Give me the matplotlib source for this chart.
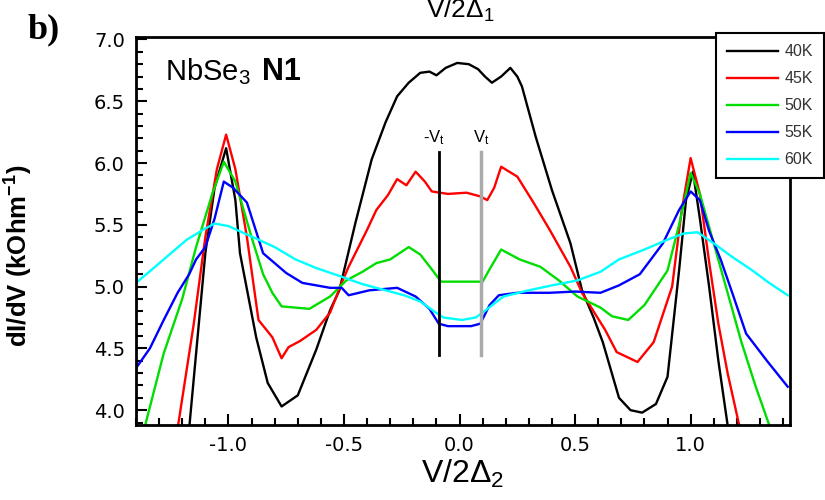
import numpy as np
import matplotlib.pyplot as plt
from matplotlib.ticker import MultipleLocator

plt.rcParams['font.family'] = ['Liberation Sans', 'DejaVu Sans']
plt.rcParams['mathtext.fontset'] = 'custom'
plt.rcParams['mathtext.rm'] = 'Liberation Sans'
plt.rcParams['mathtext.it'] = 'Liberation Sans'
plt.rcParams['mathtext.bf'] = 'Liberation Sans:bold'

# 40K
x40 = [-1.17, -1.10, -1.06, -1.01, -0.97, -0.95, -0.88, -0.83, -0.77, -0.70, -0.62, -0.56,
       -0.52, -0.45, -0.38, -0.32, -0.27, -0.22, -0.17, -0.13, -0.10, -0.06, -0.01,
       0.04, 0.08, 0.11, 0.14, 0.18, 0.22, 0.25, 0.27, 0.33, 0.40, 0.48, 0.53, 0.58, 0.62,
       0.69, 0.74, 0.79, 0.85, 0.90, 0.95, 0.98, 1.01, 1.04, 1.08, 1.12, 1.16]
y40 = [3.85, 5.27, 5.80, 6.12, 5.70, 5.27, 4.59, 4.22, 4.03, 4.12, 4.49, 4.81,
       4.97, 5.52, 6.03, 6.33, 6.54, 6.65, 6.73, 6.74, 6.71, 6.77, 6.81,
       6.80, 6.76, 6.70, 6.65, 6.70, 6.77, 6.70, 6.62, 6.21, 5.78, 5.35, 4.97, 4.75, 4.55,
       4.10, 4.00, 3.98, 4.05, 4.27, 5.13, 5.70, 5.93, 5.55, 5.00, 4.40, 3.88]

# 45K
x45 = [-1.22, -1.15, -1.10, -1.05, -1.01, -0.97, -0.92, -0.87, -0.81, -0.77, -0.74, -0.69,
       -0.62, -0.56, -0.51, -0.48, -0.40, -0.36, -0.31, -0.27, -0.23, -0.19, -0.15, -0.12, -0.05,
       0.03, 0.09, 0.12, 0.15, 0.18, 0.25, 0.32, 0.39, 0.48, 0.53, 0.58, 0.63, 0.68, 0.77,
       0.84, 0.92, 0.96, 1.00, 1.04, 1.08, 1.12, 1.16, 1.21]
y45 = [3.85, 4.70, 5.40, 5.95, 6.23, 5.95, 5.40, 4.73, 4.59, 4.42, 4.51, 4.56,
       4.65, 4.79, 5.03, 5.16, 5.46, 5.62, 5.74, 5.87, 5.82, 5.93, 5.85, 5.77, 5.75,
       5.76, 5.73, 5.70, 5.80, 5.97, 5.89, 5.68, 5.46, 5.16, 4.95, 4.80, 4.65, 4.47, 4.39,
       4.55, 5.00, 5.60, 6.04, 5.75, 5.20, 4.70, 4.30, 3.88]

# 50K
x50 = [-1.36, -1.28, -1.20, -1.14, -1.07, -1.02, -0.97, -0.90, -0.85, -0.81, -0.77, -0.65,
       -0.56, -0.49, -0.42, -0.36, -0.30, -0.22, -0.17, -0.12, -0.08, 0.00, 0.10, 0.13, 0.18,
       0.26, 0.35, 0.43, 0.51, 0.61, 0.66, 0.73, 0.80, 0.90, 0.95, 1.00, 1.04, 1.10, 1.16,
       1.22, 1.28, 1.34]
y50 = [3.88, 4.46, 4.90, 5.32, 5.75, 6.01, 5.85, 5.40, 5.10, 4.95, 4.84, 4.82,
       4.92, 5.05, 5.12, 5.19, 5.22, 5.32, 5.26, 5.14, 5.04, 5.04, 5.04, 5.14, 5.30,
       5.22, 5.16, 5.05, 4.92, 4.83, 4.76, 4.73, 4.85, 5.13, 5.50, 5.92, 5.75, 5.35, 4.95,
       4.55, 4.20, 3.88]

# 55K
x55 = [-1.40, -1.34, -1.28, -1.22, -1.17, -1.14, -1.10, -1.06, -1.02, -0.98, -0.92, -0.85,
       -0.75, -0.68, -0.56, -0.51, -0.48, -0.39, -0.27, -0.19, -0.13, -0.09, -0.05, 0.05,
       0.09, 0.13, 0.17, 0.25, 0.39, 0.50, 0.61, 0.69, 0.78, 0.88, 0.95, 1.00, 1.04, 1.08,
       1.13, 1.18, 1.24, 1.33, 1.42]
y55 = [4.34, 4.50, 4.73, 4.95, 5.10, 5.22, 5.32, 5.55, 5.85, 5.80, 5.68, 5.27,
       5.11, 5.03, 4.99, 4.99, 4.93, 4.97, 4.99, 4.92, 4.82, 4.70, 4.68, 4.68,
       4.70, 4.85, 4.93, 4.95, 4.95, 4.96, 4.95, 5.01, 5.10, 5.35, 5.62, 5.77, 5.70, 5.45,
       5.22, 4.95, 4.62, 4.40, 4.19]

# 60K
x60 = [-1.40, -1.33, -1.28, -1.18, -1.10, -1.06, -1.00, -0.93, -0.87, -0.80, -0.71, -0.62,
       -0.51, -0.42, -0.32, -0.24, -0.17, -0.11, -0.07, 0.01, 0.07, 0.10, 0.19, 0.30,
       0.40, 0.51, 0.61, 0.69, 0.80, 0.90, 0.97, 1.03, 1.10, 1.18, 1.26, 1.34, 1.42]
y60 = [5.03, 5.14, 5.22, 5.38, 5.47, 5.51, 5.49, 5.43, 5.38, 5.32, 5.22, 5.15,
       5.08, 5.02, 4.97, 4.93, 4.88, 4.80, 4.75, 4.73, 4.75, 4.79, 4.92, 4.97,
       5.01, 5.05, 5.12, 5.22, 5.30, 5.38, 5.43, 5.44, 5.35, 5.24, 5.14, 5.03, 4.93]

labels = ['40K', '45K', '50K', '55K', '60K']
colors = ['black', 'red', '#00dd00', 'blue', 'cyan']
vt = [-0.09, 0.095]

fig = plt.figure(figsize=(8.25, 5), dpi=100)
ax = fig.add_axes([136/825, 1-425/500, (790-136)/825, (425-37)/500])

for xs, ys, lab, c in zip([x40, x45, x50, x55, x60], [y40, y45, y50, y55, y60], labels, colors):
  ax.plot(xs, ys, color=c, lw=1.7, label=lab)

ax.plot([vt[0], vt[0]], [4.45, 6.09], color='black', lw=2)
ax.plot([vt[1], vt[1]], [4.45, 6.09], color='#aaaaaa', lw=2.5)
ax.text(vt[0] - 0.02, 6.13, r'-V$_t$', ha='center', va='bottom', fontsize=12)
ax.text(vt[1], 6.13, r'V$_t$', ha='center', va='bottom', fontsize=12)

ax.set_xlim(-1.40, 1.43)
ax.set_ylim(3.88, 7.02)
ax.xaxis.set_major_locator(MultipleLocator(0.5))
ax.xaxis.set_minor_locator(MultipleLocator(0.1))
ax.yaxis.set_major_locator(MultipleLocator(0.5))
ax.yaxis.set_minor_locator(MultipleLocator(0.1))
ax.tick_params(which='both', direction='in', labelsize=14, width=1.5, pad=8)
ax.tick_params(which='major', length=8)
ax.tick_params(which='minor', length=5)
for t in ax.get_xticklabels() + ax.get_yticklabels():
  t.set_family('DejaVu Sans')
ax.xaxis.set_major_formatter(plt.FuncFormatter(lambda v, p: '%.1f' % v))
ax.yaxis.set_major_formatter(plt.FuncFormatter(lambda v, p: '%.1f' % v))
for s in ax.spines.values():
  s.set_linewidth(2)

ax.set_xlabel(r'V/2$\Delta_2$', fontsize=23, labelpad=2)
ax.set_ylabel(r'dI/dV (kOhm$^{\mathbf{-1}}$)', fontsize=18.5, fontweight='bold')
ax.yaxis.set_label_coords(-0.154, 0.435)

ax.text(0.045, 0.91, r'NbSe$_3$', transform=ax.transAxes, fontsize=21, va='center')
ax.text(0.193, 0.91, 'N1', transform=ax.transAxes, fontsize=22, fontweight='bold', va='center')

fig.text(460/825, 1-24/500, r'V/2$\Delta_1$', fontsize=19, ha='center', va='bottom')
fig.text(28/825, 1-30/500, 'b)', fontsize=26, fontweight='bold', family='Liberation Serif',
         ha='left', va='center')

leg = fig.legend(loc='upper left', bbox_to_anchor=(716/825, 1-33/500), borderaxespad=0,
                 fontsize=11.5, handlelength=3.2, labelspacing=0.75, fancybox=False,
                 edgecolor='black', framealpha=1, borderpad=0.7, handletextpad=0.4)
leg.get_frame().set_linewidth(1.5)
for t in leg.get_texts():
  t.set_color('#333333')

fig.savefig('out.png', dpi=100)
